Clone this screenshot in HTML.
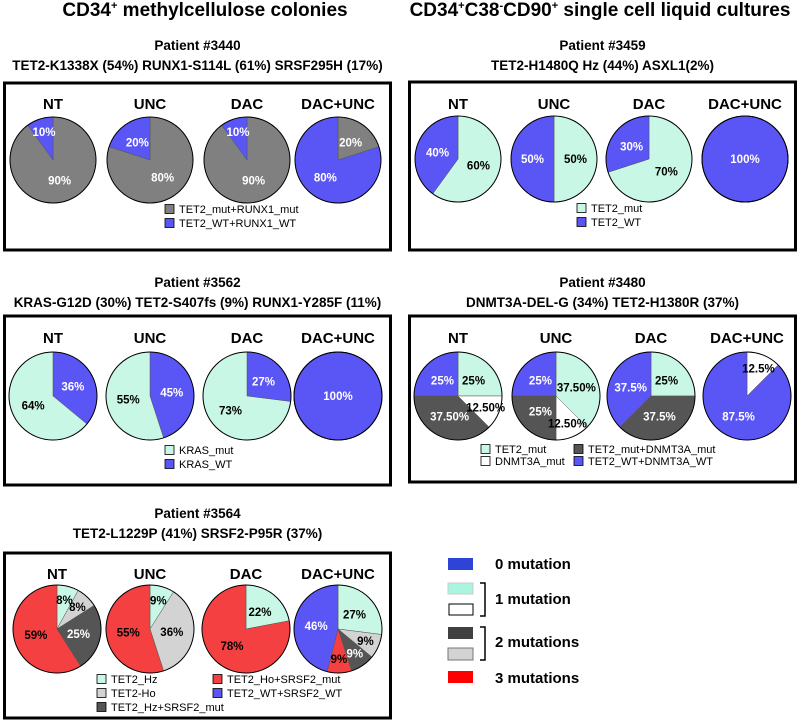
<!DOCTYPE html>
<html><head><meta charset="utf-8"><style>
body{margin:0;background:#fff}
svg{display:block;font-family:"Liberation Sans",sans-serif}
.h{font-size:19px;font-weight:bold}
.pt{font-size:13.5px;font-weight:bold}
.ct{font-size:15px;font-weight:bold}
.lg{font-size:11px}
.pl{font-size:11.5px;font-weight:bold}
.bl{font-size:15px;font-weight:bold}
</style></head><body>
<svg id="fig" width="800" height="721" viewBox="0 0 800 721">
<text class="h" x="205" y="16" text-anchor="middle">CD34<tspan dy="-7" font-size="11">+</tspan><tspan dy="7"> methylcellulose colonies</tspan></text>
<text class="h" x="600" y="16" text-anchor="middle">CD34<tspan dy="-7" font-size="11">+</tspan><tspan dy="7">C38</tspan><tspan dy="-7" font-size="11">-</tspan><tspan dy="7">CD90</tspan><tspan dy="-7" font-size="11">+</tspan><tspan dy="7"> single cell liquid cultures</tspan></text>
<g id="panels"></g>
<g>
<rect x="448" y="558" width="25" height="12" fill="#2d44d6"/>
<text class="bl" x="495" y="569">0 mutation</text>
<rect x="448" y="583" width="25" height="11" fill="#a8f5e0" stroke="#ccc"/>
<rect x="449" y="604" width="24" height="11" fill="#fff" stroke="#000"/>
<path d="M480 583 H485 V616 H480" fill="none" stroke="#000" stroke-width="1.5"/>
<text class="bl" x="495" y="604">1 mutation</text>
<rect x="448" y="627" width="25" height="12" fill="#404040"/>
<rect x="448" y="648" width="25" height="12" fill="#d3d3d3" stroke="#777"/>
<path d="M480 627 H485 V660 H480" fill="none" stroke="#000" stroke-width="1.5"/>
<text class="bl" x="495" y="647">2 mutations</text>
<rect x="448" y="671" width="25" height="12" fill="#ff0000"/>
<text class="bl" x="495" y="683">3 mutations</text>
</g>
</svg>
<script>
const C={blue:"#5a55f5",gray:"#808080",teal:"#c8f7e6",dark:"#555555",light:"#d3d3d3",white:"#ffffff",red:"#f44040"};
const TXT={blue:"#fff",gray:"#fff",teal:"#000",dark:"#fff",light:"#000",white:"#000",red:"#000"};
const treatments=["NT","UNC","DAC","DAC+UNC"];
// panel 3440
const p3440Colors=["gray","blue"];
const p3440Values=[[90,10],[80,20],[90,10],[20,80]];
const p3440Labels=[["90%","10%"],["80%","20%"],["90%","10%"],["20%","80%"]];
// panel 3459
const p3459Colors=["teal","blue"];
const p3459Values=[[60,40],[50,50],[70,30],[0,100]];
const p3459Labels=[["60%","40%"],["50%","50%"],["70%","30%"],["","100%"]];
// panel 3562
const p3562Colors=["blue","teal"];
const p3562Values=[[36,64],[45,55],[27,73],[100,0]];
const p3562Labels=[["36%","64%"],["45%","55%"],["27%","73%"],["100%",""]];
// panel 3480
const p3480Colors=["teal","white","dark","blue"];
const p3480Values=[[25,12.5,37.5,25],[37.5,12.5,25,25],[25,0,37.5,37.5],[0,12.5,0,87.5]];
const p3480Labels=[["25%","12.50%","37.50%","25%"],["37.50%","12.50%","25%","25%"],["25%","","37.5%","37.5%"],["","12.5%","","87.5%"]];
// panel 3564
const p3564Colors=["teal","light","dark","red","blue"];
const p3564Values=[[8,8,25,59,0],[9,36,0,55,0],[22,0,0,78,0],[27,9,9,9,46]];
const p3564Labels=[["8%","8%","25%","59%",""],["9%","36%","","55%",""],["22%","","","78%",""],["27%","9%","9%","9%","46%"]];

const panels=[
 {id:"3440",x:3,w:389,top:83,bot:250,titleY:[50,70],title:["Patient #3440","TET2-K1338X (54%) RUNX1-S114L (61%) SRSF295H (17%)"],cx:[53,150,247,338],cy:160,r:43,hy:109,
  colors:p3440Colors,values:p3440Values,labels:p3440Labels,
  legend:[[165,209,"gray","TET2_mut+RUNX1_mut"],[165,223,"blue","TET2_WT+RUNX1_WT"]]},
 {id:"3459",x:408,w:389,top:82,bot:250,titleY:[50,70],title:["Patient #3459","TET2-H1480Q Hz (44%)  ASXL1(2%)"],cx:[458,554,649,745],cy:159,r:43,hy:109,
  colors:p3459Colors,values:p3459Values,labels:p3459Labels,
  legend:[[577,208,"teal","TET2_mut"],[577,222,"blue","TET2_WT"]]},
 {id:"3562",x:3,w:389,top:316,bot:485,titleY:[287,307],title:["Patient #3562","KRAS-G12D (30%) TET2-S407fs (9%) RUNX1-Y285F (11%)"],cx:[53,150,247,338],cy:396,r:44,hy:343,
  colors:p3562Colors,values:p3562Values,labels:p3562Labels,
  legend:[[165,450,"teal","KRAS_mut"],[165,464,"blue","KRAS_WT"]]},
 {id:"3480",x:408,w:389,top:316,bot:482,titleY:[287,307],title:["Patient #3480","DNMT3A-DEL-G (34%) TET2-H1380R (37%)"],cx:[458,556,651,747],cy:396,r:44,hy:343,
  colors:p3480Colors,values:p3480Values,labels:p3480Labels,
  legend:[[481,449,"teal","TET2_mut"],[481,461,"white","DNMT3A_mut"],[574,449,"dark","TET2_mut+DNMT3A_mut"],[574,461,"blue","TET2_WT+DNMT3A_WT"]]},
 {id:"3564",x:3,w:389,top:553,bot:718,titleY:[518,538],title:["Patient #3564","TET2-L1229P (41%) SRSF2-P95R (37%)"],cx:[57,150,246,338],cy:629,r:44,hy:579,
  colors:p3564Colors,values:p3564Values,labels:p3564Labels,
  legend:[[97,679,"teal","TET2_Hz"],[97,693,"light","TET2-Ho"],[97,707,"dark","TET2_Hz+SRSF2_mut"],[213,679,"red","TET2_Ho+SRSF2_mut"],[213,693,"blue","TET2_WT+SRSF2_WT"]]}
];
const NS="http://www.w3.org/2000/svg";
const root=document.getElementById("panels");
function mk(tag,attrs,parent){const e=document.createElementNS(NS,tag);for(const k in attrs)e.setAttribute(k,attrs[k]);parent.appendChild(e);return e;}
function pt(cx,cy,r,frac){const a=frac*2*Math.PI;return [cx+r*Math.sin(a),cy-r*Math.cos(a)];}
panels.forEach(p=>{
 const g=mk("g",{},root);
 
 
 p.title.forEach((t,i)=>{const e=mk("text",{x:p.x+p.w/2,y:p.titleY[i],"text-anchor":"middle",class:"pt"},g);e.textContent=t;
  
  });
 const box=mk("rect",{x:p.x+1.5,y:p.top,width:p.w-3,height:p.bot-p.top,fill:"none",stroke:"#000","stroke-width":3},g);
 
 
 treatments.forEach((tr,i)=>{
  const cx=p.cx[i],cy=p.cy,r=p.r;
  const h=mk("text",{x:cx,y:p.hy,"text-anchor":"middle",class:"ct"},g);h.textContent=tr;
  
  
  const pg=mk("g",{},g);
  
  
  const vals=p.values[i];const tot=vals.reduce((a,b)=>a+b,0);let acc=0;
  const labs=[];
  vals.forEach((v,k)=>{
   if(v<=0){return;}
   const f0=acc/tot,f1=(acc+v)/tot;acc+=v;
   let s;
   if(f1-f0>=0.9999){s=mk("circle",{cx:cx,cy:cy,r:r,fill:C[p.colors[k]],stroke:"#000","stroke-width":1},pg);}
   else{const a=pt(cx,cy,r,f0),b=pt(cx,cy,r,f1);
    s=mk("path",{d:`M${cx},${cy}L${a[0]},${a[1]}A${r},${r} 0 ${f1-f0>0.5?1:0} 1 ${b[0]},${b[1]}Z`,fill:C[p.colors[k]],stroke:"#555","stroke-width":0.5},pg);}
   
   
   const lab=p.labels[i][k];
   if(lab){const fm=(f0+f1)/2;const rr=(f1-f0)>0.99?0:r*((f1-f0)<0.15?0.68:0.5);
    labs.push([pt(cx,cy,rr,fm),lab,TXT[p.colors[k]]]);}
  });
  mk("circle",{cx:cx,cy:cy,r:r,fill:"none",stroke:"#000","stroke-width":1},pg);
  labs.forEach(L=>{
    const t=mk("text",{x:L[0][0],y:L[0][1]+4,"text-anchor":"middle",class:"pl",fill:L[2]},pg);t.textContent=L[1];
    
    
  });
 });
 p.legend.forEach(l=>{
  const lg=mk("g",{},g);
  
  
  mk("rect",{x:l[0],y:l[1]-4.5,width:9,height:9,fill:C[l[2]],stroke:"#000","stroke-width":0.8},lg);
  const t=mk("text",{x:l[0]+14,y:l[1]+4,class:"lg"},lg);t.textContent=l[3];
 });
});
</script>
</body></html>
